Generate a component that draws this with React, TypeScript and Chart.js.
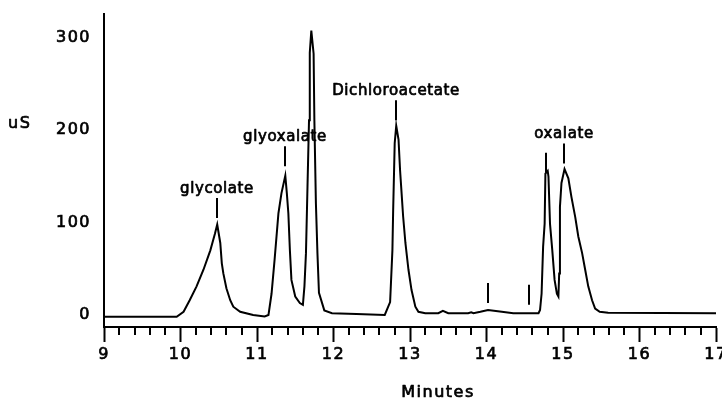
import React, { useEffect, useRef } from 'react';
import { Chart, registerables } from 'chart.js';

Chart.register(...registerables);

// Retention time (minutes)
const minutes = [
  9.00, 9.95, 10.04, 10.12, 10.21, 10.30, 10.39, 10.45, 10.48, 10.52,
  10.54, 10.56, 10.60, 10.65, 10.69, 10.78, 10.95, 11.10, 11.15, 11.19,
  11.23, 11.28, 11.32, 11.37, 11.39, 11.41, 11.43, 11.45, 11.50, 11.56,
  11.60, 11.62, 11.64, 11.66, 11.68, 11.69, 11.71, 11.74, 11.75, 11.77,
  11.79, 11.81, 11.88, 11.98, 12.30, 12.67, 12.74, 12.77, 12.78, 12.80,
  12.82, 12.85, 12.87, 12.89, 12.91, 12.94, 12.98, 13.02, 13.07, 13.11,
  13.20, 13.37, 13.43, 13.50, 13.76, 13.80, 13.83, 13.92, 14.02, 14.20,
  14.35, 14.68, 14.70, 14.72, 14.74, 14.76, 14.77, 14.80, 14.81, 14.83,
  14.86, 14.89, 14.92, 14.94, 14.95, 14.96, 14.98, 15.02, 15.07, 15.11,
  15.16, 15.20, 15.25, 15.29, 15.33, 15.38, 15.42, 15.48, 15.59, 17.00,
];

// Conductivity (uS)
const signal = [
  -2, -2, 3.5, 16, 31, 49, 70, 88, 98, 78,
  56, 45, 29, 16, 9, 3.5, 0, -1.5, 0, 23,
  60, 110, 132, 151, 132, 110, 70, 38, 20, 13,
  11, 31, 67, 139, 211, 284, 308, 283, 211, 121,
  67, 24, 5, 2, 1, 0, 14, 70, 114, 186,
  205, 190, 157, 132, 107, 78, 49, 27, 9, 3.5,
  2, 2, 4.5, 2, 2, 3, 2, 3.5, 5.5, 3.5,
  2, 2, 5.5, 23, 74, 99, 153, 156, 150, 99,
  70, 38, 23, 20, 45, 117, 143, 158, 148, 128,
  106, 85, 67, 49, 31, 16, 7, 3.5, 2.5, 2,
];

const xMajorTicks = [9, 10, 11, 12, 13, 14, 15, 16, 17];
const yTicks = [0, 100, 200, 300];

// Labelled peaks
const peakNames = ['glycolate', 'glyoxalate', 'Dichloroacetate', 'oxalate'];
const peakTimes = [10.48, 11.37, 12.82, 15.01];
const peakMarkBase = [105, 161, 211, 164];

// Unlabelled markers
const markTimes = [14.78, 14.02, 14.55];
const markBase = [154, 13, 11];

const yTitle = 'uS';
const xTitle = 'Minutes';

const isMajor = (v: number) => Math.abs(v - Math.round(v)) < 1e-6;

const allXTicks: number[] = [];
for (let i = 0; i < xMajorTicks.length; i++) {
  const m = xMajorTicks[i];
  allXTicks.push(m);
  if (i < xMajorTicks.length - 1) {
    const next = xMajorTicks[i + 1];
    for (let k = 1; k < 5; k++) allXTicks.push(m + ((next - m) * k) / 5);
  }
}

const FONT = '"DejaVu Sans", "Liberation Sans", Arial, sans-serif';

const spacingPlugin = {
  id: 'spacing',
  beforeDraw(chart: any) {
    (chart.ctx as any).letterSpacing = '1.5px';
  },
};

const drawText = (ctx: CanvasRenderingContext2D, s: string, x: number, y: number) => {
  ctx.strokeText(s, x, y);
  ctx.fillText(s, x, y);
};

const annotPlugin = {
  id: 'annot',
  afterDraw(chart: any) {
    const ctx = chart.ctx as CanvasRenderingContext2D;
    const xs = chart.scales.x;
    const ys = chart.scales.y;
    ctx.save();
    ctx.strokeStyle = '#000';
    ctx.lineWidth = 2;
    // minor ticks
    for (const t of allXTicks) {
      if (isMajor(t)) continue;
      const px = Math.round(xs.getPixelForValue(t));
      ctx.beginPath();
      ctx.moveTo(px, xs.top);
      ctx.lineTo(px, xs.top + 8);
      ctx.stroke();
    }
    // peak markers
    peakNames.forEach((_, i) => {
      const px = Math.round(xs.getPixelForValue(peakTimes[i]));
      const yb = ys.getPixelForValue(peakMarkBase[i]);
      ctx.beginPath();
      ctx.moveTo(px, yb);
      ctx.lineTo(px, yb - 20);
      ctx.stroke();
    });
    markTimes.forEach((t, i) => {
      const px = Math.round(xs.getPixelForValue(t));
      const yb = ys.getPixelForValue(markBase[i]);
      ctx.beginPath();
      ctx.moveTo(px, yb);
      ctx.lineTo(px, yb - 20);
      ctx.stroke();
    });
    // labels
    ctx.lineWidth = 0.7;
    ctx.lineJoin = 'round';
    (ctx as any).letterSpacing = '0.6px';
    ctx.font = `15px ${FONT}`;
    ctx.fillStyle = '#000';
    ctx.textAlign = 'center';
    ctx.textBaseline = 'middle';
    peakNames.forEach((name, i) => {
      const px = Math.round(xs.getPixelForValue(peakTimes[i]));
      const yb = ys.getPixelForValue(peakMarkBase[i]);
      drawText(ctx, name, px, yb - 29);
    });
    // axis titles
    (ctx as any).letterSpacing = '1.5px';
    ctx.font = `16px ${FONT}`;
    ctx.textAlign = 'left';
    drawText(ctx, yTitle, 8, 124);
    ctx.textAlign = 'center';
    drawText(ctx, xTitle, 438, 393);
    ctx.restore();
  },
};

export default function App() {
  const ref = useRef<HTMLCanvasElement | null>(null);
  useEffect(() => {
    if (!ref.current) return;
    const chart = new Chart(ref.current, {
      type: 'line',
      data: {
        datasets: [
          {
            data: minutes.map((t, i) => ({ x: t, y: signal[i] })),
            borderColor: '#000',
            borderWidth: 2,
            pointRadius: 0,
            tension: 0,
            fill: false,
          },
        ],
      },
      options: {
        animation: false,
        responsive: false,
        devicePixelRatio: 1,
        layout: { padding: { left: 0, right: 6, top: 14, bottom: 0 } },
        plugins: { legend: { display: false }, tooltip: { enabled: false } },
        scales: {
          x: {
            type: 'linear',
            min: 9,
            max: 17,
            afterBuildTicks: (s: any) => {
              s.ticks = allXTicks.map((v) => ({ value: v }));
            },
            ticks: {
              autoSkip: false,
              maxRotation: 0,
              minRotation: 0,
              padding: 3,
              color: '#000',
              textStrokeColor: '#000',
              textStrokeWidth: 0.7,
              font: { family: FONT, size: 16 },
              callback: (v: any) => (isMajor(Number(v)) ? String(Math.round(Number(v))) : ''),
            },
            grid: {
              display: true,
              drawOnChartArea: false,
              drawTicks: true,
              tickLength: 15,
              tickWidth: 2,
              tickColor: (c: any) => (c.tick && isMajor(c.tick.value) ? '#000' : 'rgba(0,0,0,0)'),
            },
            border: { display: true, color: '#000', width: 2 },
            afterFit: (s: any) => {
              s.height = 73;
              s.paddingLeft = 0;
              s.paddingRight = 0;
            },
          },
          y: {
            type: 'linear',
            min: -13,
            max: 326,
            afterBuildTicks: (s: any) => {
              s.ticks = yTicks.map((v) => ({ value: v }));
            },
            ticks: {
              padding: 13,
              color: '#000',
              textStrokeColor: '#000',
              textStrokeWidth: 0.7,
              font: { family: FONT, size: 16 },
              callback: (v: any) => String(v),
            },
            grid: { display: false, drawTicks: false },
            border: { display: true, color: '#000', width: 2 },
            afterFit: (s: any) => {
              s.width = 104;
              s.paddingTop = 0;
              s.paddingBottom = 0;
            },
          },
        },
      },
      plugins: [spacingPlugin, annotPlugin],
    } as any);
    return () => chart.destroy();
  }, []);
  return (
    <div style={{ position: 'absolute', left: 0, top: 0, width: 722, height: 400, background: '#fff' }}>
      <canvas ref={ref} width={722} height={400} style={{ display: 'block' }} />
    </div>
  );
}
